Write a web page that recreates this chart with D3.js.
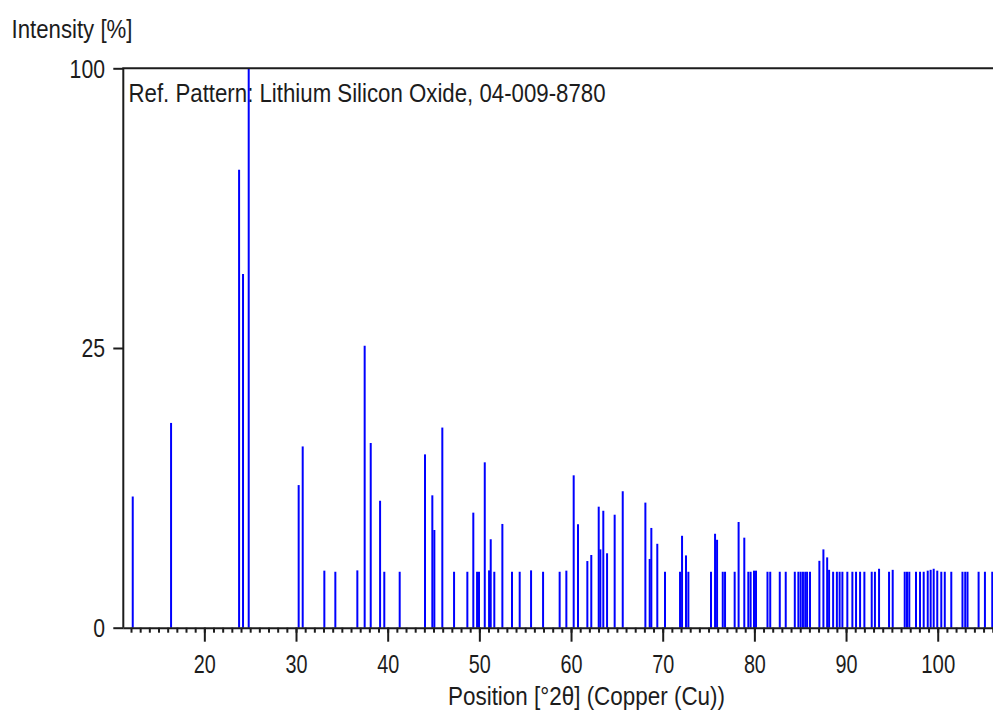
<!DOCTYPE html>
<html>
<head>
<meta charset="utf-8">
<script src="https://cdn.jsdelivr.net/npm/d3@7"></script>
<style>
  html, body { margin: 0; padding: 0; background: #fff; }
  svg { display: block; }
  text { font-family: "Liberation Sans", Arial, sans-serif; fill: #1c1c1c; }
</style>
</head>
<body>
<svg id="chart" width="993" height="713"></svg>
<script>
// ---- data ----
const positions = [
  12.19, 16.37, 23.79, 24.22, 24.84, 30.29, 30.73, 33.09, 34.29, 36.69,
  37.49, 38.15, 39.17, 39.63, 41.31, 44.07, 44.87, 45.09, 45.96, 47.24,
  48.69, 49.34, 49.75, 49.96, 50.59, 51.06, 51.24, 51.63, 52.51, 53.56,
  54.40, 55.64, 56.95, 58.76, 59.49, 60.29, 60.76, 61.78, 62.21, 63.02,
  63.20, 63.52, 63.93, 64.76, 65.64, 68.11, 68.58, 68.76, 69.41, 70.25,
  71.89, 72.11, 72.54, 72.80, 75.27, 75.71, 75.93, 76.55, 76.80, 77.85,
  78.28, 78.90, 79.34, 79.59, 79.96, 80.18, 81.43, 81.73, 82.77, 83.42,
  84.41, 84.80, 85.05, 85.30, 85.55, 85.75, 86.07, 87.09, 87.53, 87.94,
  88.15, 88.59, 89.00, 89.30, 89.60, 90.14, 90.69, 91.09, 91.53, 92.00,
  92.80, 93.15, 93.60, 94.69, 95.09, 96.40, 96.65, 96.90, 97.63, 98.07,
  98.47, 98.91, 99.23, 99.56, 99.95, 100.39, 100.77, 101.48, 102.70, 103.00,
  103.25, 104.46, 105.15, 105.95
];
const intensities = [
  5.5, 13.4, 67, 40, 100, 6.5, 10.5, 1.04, 1, 1.05,
  25.4, 10.9, 5.15, 1, 1, 9.6, 5.6, 3.05, 12.8, 1,
  1, 4.23, 1, 1, 8.74, 1.05, 2.5, 1, 3.44, 1,
  1, 1.05, 1, 1, 1.04, 7.42, 3.42, 1.42, 1.69, 4.68,
  1.96, 4.37, 1.77, 4.08, 5.95, 5.0, 1.51, 3.18, 2.25, 1,
  1, 2.7, 1.67, 1, 1, 2.82, 2.47, 1, 1, 1,
  3.57, 2.59, 1, 1, 1.04, 1.04, 1, 1, 1, 1,
  1, 1, 1, 1, 1, 1, 1, 1.43, 1.96, 1.58,
  1.07, 1, 1, 1, 1, 1, 1, 1, 1, 1,
  1, 1, 1.11, 1, 1.07, 1, 1, 1, 1, 1,
  1, 1.04, 1.07, 1.11, 1.04, 1, 1, 1, 1, 1,
  1, 1, 1, 1
];
const xMajorTicks = [20, 30, 40, 50, 60, 70, 80, 90, 100];
const xMinorTicks = d3.range(12, 107, 1);
const yTicks = [0, 25, 100];
const yLabel = "Intensity [%]";
const xLabel = "Position [°2θ] (Copper (Cu))";
const refLabel = "Ref. Pattern: Lithium Silicon Oxide, 04-009-8780";

// ---- layout ----
const plotLeft = 123.3, plotRight = 996.3, plotTop = 68.3, plotBottom = 627.7;
const x = d3.scaleLinear().domain([11.16, 106.39]).range([plotLeft, plotRight]);
const y = d3.scaleSqrt().domain([0, 100]).range([plotBottom, plotTop]);

const svg = d3.select("#chart");
const ink = "#1c1c1c";
const fs = 26;
const ff = "Liberation Sans";

// y label
svg.append("text").attr("x", 11.5).attr("y", 38)
  .attr("font-size", fs).attr("textLength", 121).attr("lengthAdjust", "spacingAndGlyphs")
  .text(yLabel);

// reference pattern label (under the bars)
svg.append("text").attr("x", 128.5).attr("y", 101.5)
  .attr("font-size", fs).attr("textLength", 477).attr("lengthAdjust", "spacingAndGlyphs")
  .text(refLabel);

// bars
const data = positions.map((p, i) => ({p, v: intensities[i]}));
svg.append("g").selectAll("line").data(data).join("line")
  .attr("x1", d => x(d.p)).attr("x2", d => x(d.p))
  .attr("y1", y(0)).attr("y2", d => y(d.v))
  .attr("stroke", "#0000ff").attr("stroke-width", 2);

// frame (left + top)
svg.append("path")
  .attr("d", `M${plotLeft},${plotBottom} V${plotTop} H${plotRight + 5}`)
  .attr("fill", "none").attr("stroke", ink).attr("stroke-width", 2);

// x minor ticks
const gMinor = svg.append("g").attr("transform", `translate(0,${plotBottom})`)
  .call(d3.axisBottom(x).tickValues(xMinorTicks).tickSize(5).tickFormat(""));
gMinor.select(".domain").remove();
gMinor.selectAll(".tick line").attr("stroke", ink).attr("stroke-width", 2);

// x major axis
const gx = svg.append("g").attr("transform", `translate(0,${plotBottom})`)
  .call(d3.axisBottom(x).tickValues(xMajorTicks).tickSize(14).tickSizeOuter(0));
gx.select(".domain").attr("stroke", ink).attr("stroke-width", 2)
  .attr("d", `M${plotLeft},0.5H${plotRight + 5}`);
gx.selectAll(".tick line").attr("stroke", ink).attr("stroke-width", 2);
gx.selectAll(".tick text")
  .attr("y", 45.3).attr("dy", 0)
  .attr("font-size", fs).attr("font-family", ff).attr("fill", ink)
  .attr("textLength", d => String(d).length === 3 ? 34 : 22)
  .attr("lengthAdjust", "spacingAndGlyphs");

// y axis
const gy = svg.append("g").attr("transform", `translate(${plotLeft},0)`)
  .call(d3.axisLeft(y).tickValues(yTicks).tickSize(10).tickSizeOuter(0));
gy.select(".domain").remove();
gy.selectAll(".tick line").attr("stroke", ink).attr("stroke-width", 2);
gy.selectAll(".tick text")
  .attr("x", -18.3).attr("dy", 0).attr("y", 8.7)
  .attr("font-size", fs).attr("font-family", ff).attr("fill", ink)
  .attr("textLength", d => String(d).length * 11.8)
  .attr("lengthAdjust", "spacingAndGlyphs");

// x label
svg.append("text").attr("x", 448).attr("y", 705)
  .attr("font-size", fs).attr("textLength", 277).attr("lengthAdjust", "spacingAndGlyphs")
  .text(xLabel);
</script>
</body>
</html>
